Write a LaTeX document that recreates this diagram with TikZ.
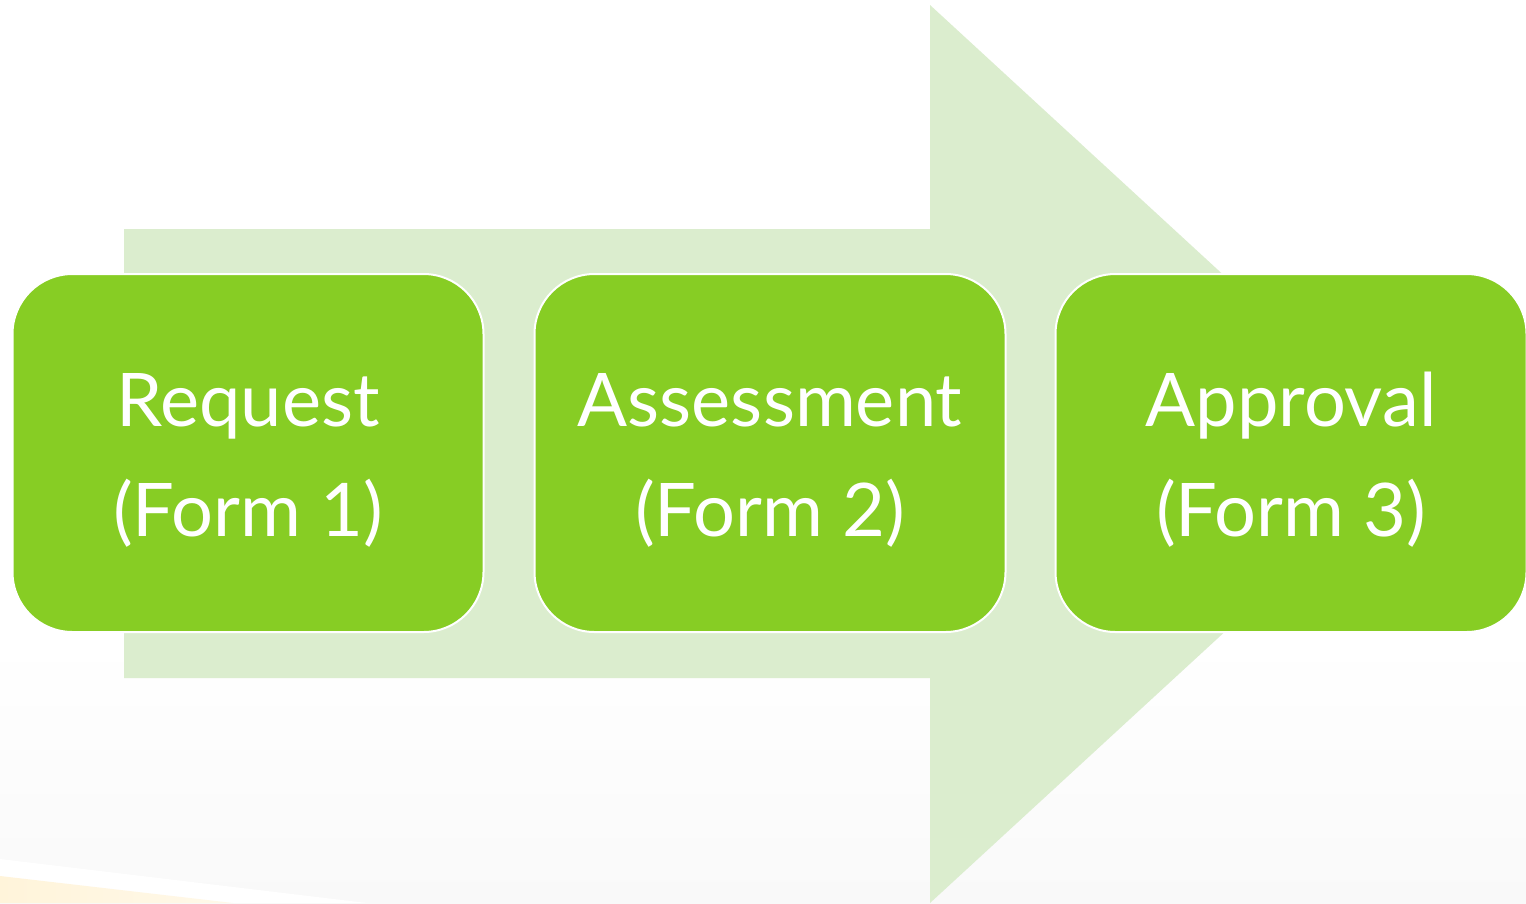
\documentclass[tikz,border=0pt]{standalone}
\usepackage{fontspec}
\setmainfont{Lato}
\definecolor{boxgreen}{HTML}{87CD24}
\definecolor{arrowgreen}{HTML}{DBEDCE}
\definecolor{floorgrey}{HTML}{F9F9F9}
\definecolor{sunstripe}{HTML}{FFF4DA}
\begin{document}
\begin{tikzpicture}[x=1pt,y=-1pt,
  stepbox/.style={draw=white, line width=2pt, fill=boxgreen,
    rounded corners=60pt, minimum width=471pt, minimum height=358pt,
    inner sep=0pt},
  steptext/.style={text=white, align=center, inner sep=0pt,
    font=\fontsize{74}{110}\selectfont}]
\useasboundingbox (0,0) rectangle (1526,903);
% backdrop
\fill[white] (0,0) rectangle (1526,903);
\shade[top color=white, bottom color=floorgrey] (0,640) rectangle (1526,903);
\fill[white] (0,859) -- (367,903) -- (0,903) -- cycle;
\shade[left color=sunstripe, right color=sunstripe!60!white] (0,876) -- (233,903) -- (0,903) -- cycle;
% process arrow
\fill[arrowgreen] (124,229) -- (930,229) -- (930,5) -- (1418,454)
  -- (930,903) -- (930,678) -- (124,678) -- cycle;
% steps
\node[stepbox] (request)    at (248,453)  {};
\node[stepbox] (assessment) at (770,453)  {};
\node[stepbox] (approval)   at (1291,453) {};
\node[steptext] (requestlbl)    at ([yshift=-7pt]request.center)    {Request\\(Form 1)};
\node[steptext] (assessmentlbl) at ([yshift=-7pt]assessment.center) {Assessment\\(Form 2)};
\node[steptext] (approvallbl)   at ([yshift=-7pt]approval.center)   {Approval\\(Form 3)};
\end{tikzpicture}
\end{document}
